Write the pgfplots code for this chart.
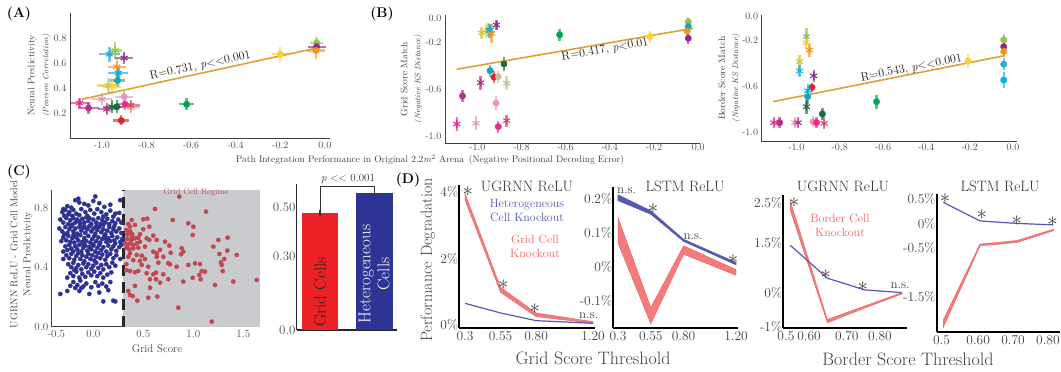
\documentclass[border=0pt]{standalone}
\usepackage{pgfplots}
\pgfplotsset{compat=1.18}
\definecolor{cSky}{HTML}{29ABE2}
\definecolor{cLime}{HTML}{8DC63F}
\definecolor{cPurp}{HTML}{92278F}
\definecolor{cOrange}{HTML}{F7941D}
\definecolor{cCyan}{HTML}{00AEEF}
\definecolor{cTeal}{HTML}{1AA3B8}
\definecolor{cOlive}{HTML}{CFC24A}
\definecolor{cHot}{HTML}{EC2A8C}
\definecolor{cMag}{HTML}{B62E8C}
\definecolor{cLPink}{HTML}{E797B4}
\definecolor{cDGreen}{HTML}{1F6B3A}
\definecolor{cGreen}{HTML}{00A651}
\definecolor{cRed}{HTML}{ED1C24}
\definecolor{cCrim}{HTML}{D8456A}
\definecolor{cKhaki}{HTML}{C8C09A}
\definecolor{cGold}{HTML}{F9D030}
\definecolor{cLine}{HTML}{D9A23A}
\definecolor{cBlueDot}{HTML}{2E3192}
\definecolor{cRedDot}{HTML}{C2474F}
\definecolor{cShade}{HTML}{C9CBCE}
\definecolor{cBarRed}{HTML}{EC2227}
\definecolor{cBarBlue}{HTML}{2E3494}
\definecolor{cKoRed}{HTML}{F27C7C}
\definecolor{cKoRedE}{HTML}{EE5A5A}
\definecolor{cKoBlue}{HTML}{5558B0}
\pgfplotsset{
  sc/.style={scale only axis, axis lines=left, axis line style={-, draw=black!75, line width=0.9pt},
    major tick length=0pt, tick label style={font=\fontsize{10}{12}\selectfont, text=black!70}, clip=false},
  ptstyle/.style={only marks, error bars/.cd, x dir=both, x explicit, y dir=both, y explicit,
    error mark=none, error bar style={line width=2.4pt, opacity=0.65}},
  dd/.style={scale only axis, axis lines=left, axis line style={-, draw=black, line width=1.8pt},
    major tick length=0pt, tick label style={font=\fontsize{13.5}{16}\selectfont, text=black!75},
    yticklabel style={inner sep=1pt}, clip=false},
  band/.style={fill=cKoRed, draw=cKoRedE, line width=0.4pt},
  bandb/.style={fill=cKoBlue, draw=cKoBlue, line width=0.6pt},
}
\newcommand{\dc}[5]{\addplot[color=#5, mark=*, mark size=3.2pt, ptstyle] coordinates {(#1,#2) +- (#3,#4)};}
\newcommand{\ds}[5]{\addplot[color=#5, mark=asterisk, mark size=4pt, mark options={line width=1.1pt}, ptstyle] coordinates {(#1,#2) +- (#3,#4)};}
\newcommand{\st}{\fontsize{20}{20}\selectfont}
\newcommand{\lt}{\mbox{<}}
\begin{document}
\begin{tikzpicture}[x=1pt,y=1pt]
\useasboundingbox (0,0) rectangle (1061,372);

% ---------------- Panel A ----------------
\begin{axis}[sc, at={(70pt,234pt)}, anchor=south west, width=260pt, height=125pt,
  xmin=-1.143, xmax=0.023, ymin=0, ymax=1.0,
  xtick={-1,-0.8,-0.6,-0.4,-0.2,0}, xticklabels={-1.0,-0.8,-0.6,-0.4,-0.2,0.0},
  ytick={0.2,0.4,0.6,0.8}, yticklabels={0.2,0.4,0.6,0.8},
  ylabel={Neural Predictivity\\{\fontsize{8}{9}\selectfont\itshape (Pearson Correlation)}},
  ylabel style={at={(axis description cs:-0.119,0.5)}, anchor=center, align=center, font=\fontsize{9.5}{14}\selectfont, text=black!75}]
\ds{-0.966}{0.67}{0.045}{0.06}{cSky}
\ds{-0.94}{0.70}{0.03}{0.07}{cLime}
\ds{-0.90}{0.64}{0.04}{0.05}{cPurp}
\ds{-0.933}{0.57}{0.04}{0.08}{cOrange}
\ds{-0.926}{0.52}{0.045}{0.05}{cCyan}
\dc{-0.93}{0.46}{0.035}{0.05}{cTeal}
\ds{-0.97}{0.42}{0.05}{0.06}{cOlive}
\ds{-0.955}{0.41}{0.04}{0.05}{cGold}
\ds{-1.10}{0.28}{0.04}{0.04}{cHot}
\dc{-1.06}{0.24}{0.045}{0.05}{cMag}
\ds{-1.0}{0.31}{0.045}{0.05}{cLPink}
\ds{-0.978}{0.23}{0.04}{0.05}{cMag}
\ds{-0.955}{0.25}{0.04}{0.05}{cDGreen}
\dc{-0.933}{0.25}{0.035}{0.05}{cDGreen}
\dc{-0.90}{0.33}{0.04}{0.05}{cLPink}
\dc{-0.896}{0.27}{0.04}{0.05}{cHot}
\dc{-0.913}{0.14}{0.035}{0.04}{cRed}
\ds{-0.87}{0.24}{0.035}{0.05}{cKhaki}
\ds{-0.87}{0.26}{0.04}{0.04}{cCrim}
\dc{-0.62}{0.27}{0.035}{0.05}{cGreen}
\dc{-0.20}{0.67}{0.035}{0.06}{cGold}
\dc{-0.037}{0.76}{0.03}{0.05}{cLime}
\dc{-0.037}{0.73}{0.04}{0.04}{cPurp}
\dc{-0.04}{0.70}{0.04}{0.07}{cOrange}
\addplot[cLine, line width=1.6pt] coordinates {(-1.09,0.31) (-0.037,0.72)};
\node[rotate=12, font=\fontsize{12}{13}\selectfont, text=black!90] at (axis cs:-0.559,0.575) {R=0.731, \textit{p}\lt\lt0.001};
\end{axis}

% ---------------- Panel B (grid) ----------------
\begin{axis}[sc, at={(445pt,229pt)}, anchor=south west, width=255pt, height=128pt,
  xmin=-1.146, xmax=0.008, ymin=-1.06, ymax=0.028,
  xtick={-1,-0.8,-0.6,-0.4,-0.2,0}, xticklabels={-1.0,-0.8,-0.6,-0.4,-0.2,0.0},
  xticklabel style={yshift=3pt},
  ytick={-1,-0.6,-0.2,0}, yticklabels={-1.0,-0.6,-0.2,0.0},
  ylabel={Grid Score Match\\{\fontsize{8}{9}\selectfont\itshape (Negative KS Distance)}},
  ylabel style={at={(axis description cs:-0.131,0.5)}, anchor=center, align=center, font=\fontsize{9.5}{13}\selectfont, text=black!75}]
\ds{-0.98}{-0.125}{0.006}{0.05}{cOlive}
\ds{-0.96}{-0.11}{0.006}{0.06}{cGold}
\ds{-0.95}{-0.10}{0.006}{0.06}{cLime}
\ds{-0.945}{-0.105}{0.006}{0.06}{cSky}
\ds{-0.94}{-0.10}{0.006}{0.05}{cCyan}
\ds{-0.935}{-0.13}{0.006}{0.08}{cOrange}
\ds{-0.913}{-0.057}{0.006}{0.04}{cPurp}
\dc{-0.627}{-0.14}{0.006}{0.05}{cGreen}
\dc{-0.219}{-0.156}{0.006}{0.05}{cGold}
\dc{-0.045}{-0.03}{0.006}{0.04}{cLime}
\dc{-0.045}{-0.07}{0.006}{0.04}{cTeal}
\dc{-0.05}{-0.11}{0.006}{0.05}{cOrange}
\dc{-0.045}{-0.17}{0.006}{0.05}{cPurp}
\dc{-0.879}{-0.388}{0.006}{0.06}{cDGreen}
\dc{-0.942}{-0.445}{0.006}{0.05}{cTeal}
\dc{-0.924}{-0.50}{0.006}{0.05}{cRed}
\dc{-0.905}{-0.496}{0.006}{0.05}{cKhaki}
\ds{-0.867}{-0.552}{0.006}{0.06}{cKhaki}
\ds{-0.985}{-0.547}{0.006}{0.06}{cMag}
\dc{-1.067}{-0.66}{0.006}{0.05}{cMag}
\dc{-0.915}{-0.72}{0.006}{0.06}{cLPink}
\ds{-1.093}{-0.898}{0.006}{0.06}{cHot}
\ds{-1.006}{-0.892}{0.006}{0.06}{cLPink}
\dc{-0.905}{-0.921}{0.006}{0.05}{cHot}
\ds{-0.867}{-0.87}{0.006}{0.05}{cCrim}
\addplot[cLine, line width=1.6pt] coordinates {(-1.093,-0.433) (-0.023,-0.085)};
\node[rotate=9.8, font=\fontsize{12}{13}\selectfont, text=black!90] at (axis cs:-0.422,-0.269) {R=0.417, \textit{p}\lt0.01};
\end{axis}

% ---------------- Panel B (border) ----------------
\begin{axis}[sc, at={(761.7pt,230.3pt)}, anchor=south west, width=254.8pt, height=126.8pt,
  xmin=-1.16, xmax=0.016, ymin=-1.078, ymax=0.015,
  xtick={-1,-0.8,-0.6,-0.4,-0.2,0}, xticklabels={-1.0,-0.8,-0.6,-0.4,-0.2,0.0},
  xticklabel style={yshift=1pt},
  ytick={-1,-0.6,-0.2,0}, yticklabels={-1.0,-0.6,-0.2,0.0},
  ylabel={Border Score Match\\{\fontsize{8}{9}\selectfont\itshape (Negative KS Distance)}},
  ylabel style={at={(axis description cs:-0.127,0.5)}, anchor=center, align=center, font=\fontsize{9.5}{13}\selectfont, text=black!75}]
\ds{-0.954}{-0.172}{0.006}{0.07}{cLime}
\ds{-0.955}{-0.224}{0.006}{0.06}{cGold}
\ds{-0.94}{-0.287}{0.006}{0.06}{cOrange}
\ds{-0.985}{-0.388}{0.006}{0.06}{cOlive}
\ds{-0.985}{-0.468}{0.006}{0.05}{cSky}
\ds{-0.92}{-0.51}{0.006}{0.05}{cPurp}
\dc{-0.928}{-0.61}{0.006}{0.04}{cRed}
\ds{-0.947}{-0.638}{0.006}{0.06}{cCyan}
\dc{-0.948}{-0.69}{0.006}{0.06}{cTeal}
\ds{-0.953}{-0.776}{0.006}{0.06}{cDGreen}
\dc{-0.88}{-0.839}{0.006}{0.05}{cDGreen}
\ds{-1.104}{-0.914}{0.006}{0.05}{cHot}
\dc{-1.077}{-0.914}{0.006}{0.05}{cMag}
\ds{-1.007}{-0.914}{0.006}{0.05}{cLPink}
\ds{-0.992}{-0.914}{0.006}{0.05}{cMag}
\dc{-0.923}{-0.905}{0.006}{0.05}{cLPink}
\dc{-0.907}{-0.914}{0.006}{0.05}{cHot}
\ds{-0.872}{-0.919}{0.006}{0.05}{cCrim}
\dc{-0.63}{-0.733}{0.006}{0.06}{cGreen}
\dc{-0.208}{-0.382}{0.006}{0.06}{cGold}
\dc{-0.043}{-0.2}{0.006}{0.05}{cLime}
\dc{-0.043}{-0.259}{0.006}{0.04}{cPurp}
\dc{-0.043}{-0.30}{0.006}{0.05}{cOrange}
\dc{-0.043}{-0.41}{0.006}{0.05}{cSky}
\dc{-0.043}{-0.546}{0.006}{0.07}{cCyan}
\addplot[cLine, line width=1.6pt] coordinates {(-1.108,-0.733) (-0.038,-0.336)};
\node[rotate=11.2, font=\fontsize{12}{13}\selectfont, text=black!90] at (axis cs:-0.469,-0.445) {R=0.543, \textit{p}\lt\lt0.001};
\end{axis}

% ---------------- Panel C scatter ----------------
\begin{axis}[sc, at={(51.7pt,45.3pt)}, anchor=south west, width=208.3pt, height=136.9pt,
  xmin=-0.416, xmax=1.667, ymin=0, ymax=0.92,
  tick label style={font=\fontsize{11}{12}\selectfont, text=black!70},
  xtick={-0.37,0,0.5,1,1.5}, xticklabels={-0.5,0.0,0.5,1.0,1.5},
  ytick={0,0.4,0.8}, yticklabels={0.0,0.4,0.8},
  ylabel={UGRNN ReLU - Grid Cell Model\\Neural Predictivity},
  ylabel style={at={(axis description cs:-0.145,0.53)}, anchor=center, align=center, font=\fontsize{10}{13}\selectfont, text=black!75}]
\addplot[fill=cShade, draw=none] coordinates {(0.3,0.92) (1.667,0.92)} \closedcycle;
\addplot[only marks, mark=*, mark size=2.1pt, color=cBlueDot] coordinates {
(-0.18,0.85) (-0.15,0.86) (-0.14,0.835) (0.02,0.875) (0.0,0.845) (0.27,0.85) (-0.26,0.81) (-0.05,0.815) (0.06,0.83) (-0.22,0.80) (0.11,0.805) (-0.09,0.825) (-0.3,0.79) (0.17,0.82)
(-0.31,0.77) (-0.28,0.785) (-0.24,0.77) (-0.2,0.785) (-0.17,0.76) (-0.12,0.79) (-0.08,0.77) (-0.03,0.785) (0.01,0.76) (0.04,0.79) (0.08,0.77) (0.13,0.755) (0.17,0.78) (0.22,0.76) (-0.29,0.745) (-0.21,0.745) (-0.14,0.75) (-0.06,0.745) (0.1,0.74) (0.2,0.74) (-0.25,0.755) (0.26,0.765)
(-0.33,0.72) (-0.3,0.7) (-0.27,0.73) (-0.25,0.69) (-0.23,0.715) (-0.2,0.73) (-0.18,0.7) (-0.16,0.72) (-0.13,0.69) (-0.11,0.725) (-0.09,0.7) (-0.07,0.735) (-0.05,0.71) (-0.02,0.69) (0.0,0.72) (0.03,0.7) (0.05,0.73) (0.07,0.69) (0.09,0.715) (0.12,0.7) (0.14,0.725) (0.16,0.69) (0.19,0.71) (0.22,0.695) (0.25,0.72) (0.28,0.7) (-0.21,0.685) (-0.14,0.705) (-0.04,0.73) (0.1,0.685)
(-0.34,0.66) (-0.31,0.64) (-0.28,0.67) (-0.26,0.63) (-0.24,0.655) (-0.22,0.675) (-0.2,0.64) (-0.18,0.66) (-0.16,0.625) (-0.14,0.67) (-0.12,0.645) (-0.1,0.665) (-0.08,0.63) (-0.06,0.655) (-0.04,0.675) (-0.02,0.64) (0.0,0.66) (0.02,0.625) (0.04,0.65) (0.06,0.67) (0.08,0.635) (0.1,0.655) (0.12,0.62) (0.14,0.645) (0.16,0.67) (0.18,0.63) (0.2,0.655) (0.23,0.64) (0.26,0.66) (0.28,0.63) (-0.29,0.62) (-0.19,0.62) (-0.09,0.675) (0.03,0.675) (0.21,0.675)
(-0.3,0.6) (-0.27,0.58) (-0.25,0.61) (-0.23,0.57) (-0.21,0.595) (-0.19,0.565) (-0.17,0.6) (-0.15,0.58) (-0.13,0.615) (-0.11,0.57) (-0.09,0.595) (-0.07,0.575) (-0.05,0.61) (-0.03,0.565) (-0.01,0.59) (0.01,0.61) (0.03,0.575) (0.05,0.6) (0.07,0.565) (0.09,0.59) (0.11,0.61) (0.13,0.57) (0.15,0.595) (0.17,0.575) (0.19,0.61) (0.21,0.58) (0.24,0.6) (0.27,0.57) (0.29,0.59) (-0.32,0.575) (-0.2,0.615) (-0.1,0.555) (0.0,0.555) (0.12,0.595) (0.22,0.56)
(-0.28,0.54) (-0.26,0.515) (-0.24,0.55) (-0.22,0.525) (-0.2,0.505) (-0.18,0.54) (-0.16,0.52) (-0.14,0.55) (-0.12,0.505) (-0.1,0.53) (-0.08,0.545) (-0.06,0.51) (-0.04,0.535) (-0.02,0.52) (0.0,0.545) (0.02,0.505) (0.04,0.53) (0.06,0.55) (0.08,0.515) (0.1,0.535) (0.13,0.505) (0.15,0.545) (0.18,0.52) (0.2,0.54) (0.23,0.51) (0.26,0.535) (0.28,0.55) (-0.3,0.505)
(-0.27,0.48) (-0.24,0.46) (-0.22,0.49) (-0.19,0.45) (-0.17,0.475) (-0.15,0.495) (-0.13,0.455) (-0.11,0.48) (-0.09,0.44) (-0.07,0.47) (-0.05,0.49) (-0.03,0.455) (-0.01,0.48) (0.01,0.445) (0.03,0.47) (0.05,0.495) (0.07,0.46) (0.09,0.485) (0.12,0.45) (0.14,0.475) (0.17,0.49) (0.2,0.46) (0.23,0.48) (0.27,0.455) (-0.3,0.455)
(-0.25,0.42) (-0.22,0.4) (-0.2,0.43) (-0.17,0.395) (-0.15,0.415) (-0.12,0.385) (-0.1,0.425) (-0.07,0.4) (-0.05,0.42) (-0.02,0.39) (0.0,0.41) (0.03,0.43) (0.05,0.395) (0.08,0.415) (0.1,0.385) (0.13,0.42) (0.16,0.4) (0.19,0.43) (0.22,0.41) (-0.19,0.38)
(-0.23,0.36) (-0.2,0.34) (-0.17,0.37) (-0.14,0.33) (-0.11,0.355) (-0.08,0.335) (-0.05,0.365) (-0.02,0.345) (0.01,0.37) (0.04,0.34) (0.07,0.36) (0.1,0.33) (0.14,0.35) (0.18,0.365) (-0.26,0.33)
(-0.2,0.3) (-0.16,0.28) (-0.13,0.31) (-0.1,0.27) (-0.07,0.29) (-0.02,0.265) (0.02,0.3) (0.05,0.275) (0.09,0.29) (0.13,0.27) (0.17,0.3) (-0.23,0.275) (-0.18,0.26) (-0.12,0.26)
(-0.33,0.22) (-0.26,0.24) (0.1,0.17) (0.2,0.175) (0.22,0.17) (0.06,0.23) (-0.04,0.22) (0.15,0.245) (-0.14,0.24)
};
\addplot[only marks, mark=*, mark size=2.1pt, color=cRedDot] coordinates {
(0.86,0.874) (0.617,0.791) (1.127,0.773) (0.384,0.717) (0.50,0.722) (0.54,0.726) (0.794,0.717) (0.95,0.695) (1.0,0.672) (0.367,0.672) (0.417,0.684) (0.56,0.672) (0.50,0.655) (0.994,0.616) (0.60,0.612) (0.467,0.621) (0.384,0.605) (0.417,0.594) (0.45,0.598) (0.534,0.594) (0.56,0.583) (1.344,0.598) (1.25,0.583) (0.634,0.583) (0.717,0.571) (0.367,0.56) (0.40,0.549) (0.434,0.56) (0.467,0.571) (0.76,0.545) (1.2,0.538) (0.40,0.527) (0.45,0.531) (0.517,0.538) (0.884,0.527) (0.90,0.504) (1.34,0.511) (0.60,0.504) (0.634,0.493) (0.667,0.516) (0.774,0.497) (1.26,0.489) (1.434,0.482) (0.367,0.493) (0.434,0.482) (0.484,0.477) (0.877,0.487) (0.634,0.47) (0.70,0.47) (1.31,0.455) (0.40,0.448) (0.467,0.442) (0.517,0.455) (0.65,0.43) (0.75,0.426) (0.767,0.419) (0.95,0.415) (1.017,0.426) (1.067,0.421) (0.834,0.403) (1.284,0.415) (1.277,0.433) (0.484,0.415) (0.55,0.403) (1.084,0.374) (1.117,0.37) (0.367,0.374) (0.417,0.366) (0.45,0.374) (0.534,0.359) (0.60,0.352) (0.627,0.363) (0.70,0.352) (1.294,0.374) (1.06,0.348) (0.994,0.329) (0.90,0.303) (1.074,0.319) (0.75,0.319) (0.567,0.319) (0.627,0.319) (0.667,0.296) (1.40,0.303) (1.634,0.314) (1.217,0.28) (0.417,0.274) (0.567,0.262) (0.367,0.213) (0.394,0.206) (0.55,0.195) (0.64,0.202) (0.44,0.175) (0.85,0.128) (1.184,0.034)
(0.33,0.65) (0.34,0.59) (0.33,0.53) (0.35,0.47) (0.33,0.42) (0.34,0.62) (0.36,0.63) (0.35,0.69) (0.37,0.64) (0.32,0.56) (0.345,0.55) (0.39,0.62) (0.38,0.58) (0.36,0.52) (0.33,0.38) (0.35,0.24)
};
\addplot[black!85, line width=3pt, dash pattern=on 11pt off 6pt] coordinates {(0.3,0) (0.3,0.92)};
\end{axis}

% ---------------- Panel C bars ----------------
\begin{axis}[sc, at={(296.7pt,42pt)}, anchor=south west, width=100pt, height=146pt,
  xmin=-0.43, xmax=1.41, ymin=0, ymax=0.597, xtick=\empty,
  axis line style={-, draw=black!85, line width=1.2pt},
  tick label style={font=\fontsize{13}{14}\selectfont, text=black!70},
  ytick={0,0.3,0.5}, yticklabels={0.0,0.30,0.50}, yticklabel style={inner sep=1pt}]
\addplot[ybar, bar shift=0pt, bar width=0.674, fill=cBarRed, draw=none,
  error bars/.cd, y dir=both, y explicit, error mark=none, error bar style={black!80, line width=1.5pt}]
  coordinates {(0,0.48) +- (0,0.012)};
\addplot[ybar, bar shift=0pt, bar width=0.674, fill=cBarBlue, draw=none,
  error bars/.cd, y dir=both, y explicit, error mark=none, error bar style={black!80, line width=1.5pt}]
  coordinates {(1,0.561) +- (0,0.008)};
\end{axis}

% ---------------- Panel D1 ----------------
\begin{axis}[dd, at={(459.3pt,43.7pt)}, anchor=south west, width=135.7pt, height=143.3pt,
  xmin=0.26, xmax=1.214, ymin=-0.1, ymax=4.2,
  xtick={0.3,0.55,0.8,1.2}, xticklabels={0.3,0.55,0.80,1.20},
  ytick={0,2,4}, yticklabels={0\%,2\%,4\%}]
\addplot[band] coordinates {(0.3,3.95) (0.55,1.13) (0.8,0.36) (1.2,0.10) (1.2,0.05) (0.8,0.25) (0.55,0.98) (0.3,3.75)} -- cycle;
\addplot[cKoBlue, line width=1.2pt] coordinates {(0.3,0.65) (0.55,0.36) (0.8,0.13) (1.2,0.05)};
\node[font=\st, text=black!75] at (axis cs:0.32,4.0) {$\ast$};
\node[font=\st, text=black!75] at (axis cs:0.57,1.2) {$\ast$};
\node[font=\st, text=black!75] at (axis cs:0.79,0.5) {$\ast$};
\node[font=\fontsize{13}{14}\selectfont, text=black!75] at (axis cs:1.17,0.27) {n.s.};
\end{axis}

% ---------------- Panel D2 ----------------
\begin{axis}[dd, at={(613.3pt,44pt)}, anchor=south west, width=124.7pt, height=141pt,
  xmin=0.264, xmax=1.215, ymin=-0.18, ymax=0.235,
  xtick={0.3,0.55,0.8,1.2}, xticklabels={0.3,0.55,0.80,1.20},
  ytick={-0.1,0,0.1,0.2}, yticklabels={-0.1\%,0\%,0.1\%,0.2\%}]
\addplot[band] coordinates {(0.3,0.145) (0.55,-0.12) (0.8,0.062) (1.2,-0.008) (1.2,-0.025) (0.8,0.037) (0.55,-0.168) (0.3,0.07)} -- cycle;
\addplot[bandb] coordinates {(0.3,0.212) (0.55,0.165) (0.8,0.081) (1.2,0.013) (1.2,0.006) (0.8,0.075) (0.55,0.155) (0.3,0.195)} -- cycle;
\node[font=\fontsize{13}{14}\selectfont, text=black!75] at (axis cs:0.366,0.224) {n.s.};
\node[font=\st, text=black!75] at (axis cs:0.567,0.172) {$\ast$};
\node[font=\fontsize{13}{14}\selectfont, text=black!75] at (axis cs:0.873,0.09) {n.s.};
\node[font=\st, text=black!75] at (axis cs:1.178,0.022) {$\ast$};
\end{axis}

% ---------------- Panel D3 ----------------
\begin{axis}[dd, at={(783.3pt,43.7pt)}, anchor=south west, width=123.4pt, height=133.2pt,
  xmin=0.482, xmax=0.8126, ymin=-1.045, ymax=2.93,
  xtick={0.489,0.551,0.652,0.741}, xticklabels={0.5,0.60,0.70,0.80},
  ytick={-1,0,1.5,2.69}, yticklabels={-1\%,0\%,1.5\%,2.5\%}]
\addplot[band] coordinates {(0.5,2.78) (0.6,-0.78) (0.7,-0.38) (0.8,0.02) (0.8,-0.02) (0.7,-0.44) (0.6,-0.88) (0.5,2.50)} -- cycle;
\addplot[cKoBlue, line width=1.2pt] coordinates {(0.5,1.44) (0.6,0.45) (0.7,0.10) (0.8,0.02)};
\node[font=\st, text=black!75] at (axis cs:0.511,2.7) {$\ast$};
\node[font=\st, text=black!75] at (axis cs:0.596,0.55) {$\ast$};
\node[font=\st, text=black!75] at (axis cs:0.695,0.2) {$\ast$};
\node[font=\fontsize{13}{14}\selectfont, text=black!75] at (axis cs:0.795,0.22) {n.s.};
\end{axis}

% ---------------- Panel D4 ----------------
\begin{axis}[dd, at={(936.7pt,40.3pt)}, anchor=south west, width=123.3pt, height=137.7pt,
  xmin=0.482, xmax=0.818, ymin=-2.21, ymax=0.6,
  xtick={0.495,0.595,0.69,0.785}, xticklabels={0.5,0.60,0.70,0.80},
  ytick={-1.5,-0.5,0,0.5}, yticklabels={-1.5\%,-0.5\%,0\%,0.5\%}]
\addplot[band] coordinates {(0.5,-1.97) (0.6,-0.42) (0.7,-0.35) (0.8,-0.12) (0.8,-0.15) (0.7,-0.39) (0.6,-0.46) (0.5,-2.12)} -- cycle;
\addplot[cKoBlue, line width=1.2pt] coordinates {(0.5,0.43) (0.6,0.05) (0.7,0.0) (0.8,-0.03)};
\node[font=\st, text=black!75] at (axis cs:0.505,0.5) {$\ast$};
\node[font=\st, text=black!75] at (axis cs:0.605,0.18) {$\ast$};
\node[font=\st, text=black!75] at (axis cs:0.70,0.06) {$\ast$};
\node[font=\st, text=black!75] at (axis cs:0.798,0.04) {$\ast$};
\end{axis}

% ---------------- free text ----------------
\node[font=\fontsize{14}{16}\selectfont\bfseries] at (19,358) {(A)};
\node[font=\fontsize{14}{16}\selectfont\bfseries] at (382,358) {(B)};
\node[font=\fontsize{14}{16}\selectfont\bfseries] at (19,200) {(C)};
\node[font=\fontsize{14}{16}\selectfont\bfseries] at (408,192) {(D)};
\node[font=\fontsize{9.5}{11}\selectfont, text=black!75] at (430,212) {Path Integration Performance in Original 2.2\textit{m}$^2$ Arena\enspace(Negative Positional Decoding Error)};
\node[font=\fontsize{11}{12}\selectfont, text=black!75] at (157,23) {Grid Score};
\node[font=\fontsize{8}{9}\selectfont, text=cRedDot] at (196,179) {Grid Cell Regime};
\draw[black!80, line width=0.9pt] (320,162) -- (320,186) -- (374.3,186) -- (374.3,179);
\node[font=\fontsize{11}{12}\selectfont, text=black!80] at (348,193) {\textit{p} \lt\lt{} 0.001};
\node[rotate=90, font=\fontsize{17}{18}\selectfont, text=black!85] at (320,80) {Grid Cells};
\node[rotate=90, align=center, font=\fontsize{17}{19}\selectfont, text=white] at (374.3,98) {Heterogeneous\\Cells};
\node[rotate=90, font=\fontsize{16}{18}\selectfont, text=black!75] at (428,112) {Performance Degradation};
\node[font=\fontsize{18}{20}\selectfont, text=black!75] at (593,14) {Grid Score Threshold};
\node[font=\fontsize{18}{20}\selectfont, text=black!75] at (908,13) {Border Score Threshold};
\node[font=\fontsize{15}{17}\selectfont, text=black!80] at (527,186) {UGRNN ReLU};
\node[font=\fontsize{15}{17}\selectfont, text=black!80] at (685,186) {LSTM ReLU};
\node[font=\fontsize{15}{17}\selectfont, text=black!80] at (843,186) {UGRNN ReLU};
\node[font=\fontsize{15}{17}\selectfont, text=black!80] at (1000,186) {LSTM ReLU};
\node[align=center, font=\fontsize{12}{14}\selectfont, text=cKoBlue] at (527,161) {Heterogeneous\\Cell Knockout};
\node[align=center, font=\fontsize{12}{14}\selectfont, text=cKoRed!80!red] at (535,126) {Grid Cell\\Knockout};
\node[align=center, font=\fontsize{12}{14}\selectfont, text=cKoRed!80!red] at (840,147) {Border Cell\\Knockout};
\end{tikzpicture}
\end{document}
